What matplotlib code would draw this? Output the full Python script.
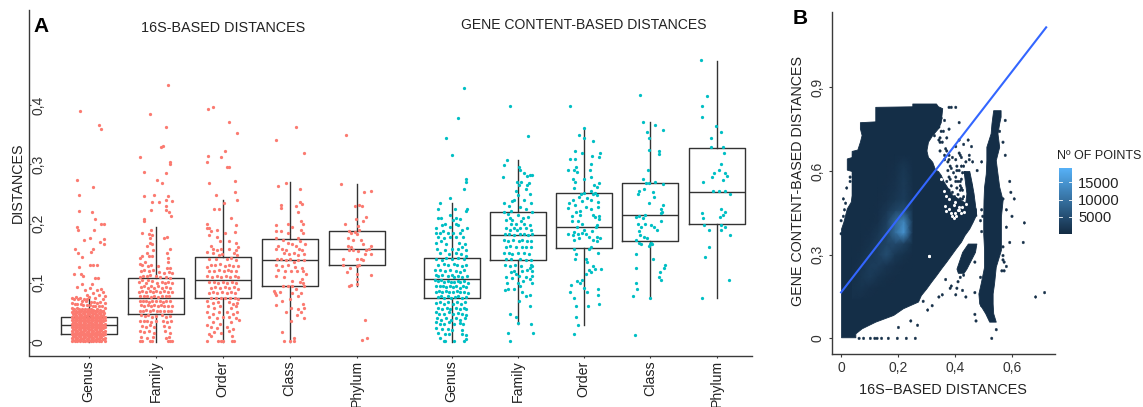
import numpy as np
import matplotlib
matplotlib.use("Agg")
import matplotlib.pyplot as plt
from matplotlib.colors import LinearSegmentedColormap, Normalize
from matplotlib.cm import ScalarMappable

plt.rcParams['font.family'] = ['Liberation Sans', 'DejaVu Sans']

W, H = 1143, 407
ranks = ["Genus", "Family", "Order", "Class", "Phylum"]
group_titles = ["16S-BASED DISTANCES", "GENE CONTENT-BASED DISTANCES"]
positions = [0, 1, 2, 3, 4, 5.418, 6.403, 7.39, 8.376, 9.373]

# whisker low, q1, median, q3, whisker high
box_16s = [(0, .014, .028, .043, .073), (0, .047, .075, .108, .194), (0, .074, .105, .143, .24),
           (0, .094, .138, .174, .27), (.094, .13, .157, .187, .267)]
box_gene = [(0, .075, .107, .142, .235), (.03, .139, .181, .219, .307), (.028, .159, .195, .252, .36),
            (.074, .17, .214, .268, .371), (.074, .2, .253, .328, .475)]

# jittered points: (horizontal jitter, distance)
pts_genus_16s = [(-.13,.39),(.16,.366),(.19,.36),(-.18,.273),(.06,.262),(-.15,.248),(-.15,.221),(.05,.219),(.1,.208),(-.18,.194),(-.16,.189),(.08,.189),(.18,.199),(.23,.199),
(-.07,.172),(.02,.176),(.23,.174),(.17,.169),(.23,.165),(.07,.157),(-.2,.158),(.04,.152),(-.1,.144),(-.16,.151),(.02,.13),(.06,.13),(.12,.13),(-.14,.127),(-.22,.115),(-.12,.115),(-.08,.112),(.1,.108),(.14,.108),(-.1,.098),(.05,.098),(.02,.092),(-.17,.093),(-.05,.088),(.19,.09),(.13,.088),(.22,.084),(.07,.082),(-.03,.08),(.15,.079),(.24,.078),(-.02,.073),(.21,.072),(.1,.074),(.01,.076),
(-.25,.074),(-.22,.073),(-.19,.076),(-.16,.072),(-.13,.075),(-.1,.07),(-.07,.073),(-.04,.069),(.04,.068),(.08,.067),(.12,.066),(.17,.068),(.24,.066),
(-.25,.066),(-.21,.064),(-.17,.065),(-.12,.064),(-.08,.063),(-.03,.062),(.02,.062),(.06,.06),(.1,.06),(.15,.061),(.2,.06),(.25,.058),
(-.25,.058),(-.22,.056),(-.18,.058),(-.15,.056),(-.1,.056),(-.06,.056),(-.01,.055),(.03,.055),(.07,.054),(.12,.055),(.17,.054),(.22,.053),
(-.25,.05),(-.21,.049),(-.17,.05),(-.13,.05),(-.09,.049),(-.05,.05),(-.01,.049),(.03,.05),(.07,.049),(.11,.05),(.15,.049),(.19,.05),(.23,.049),
(-.25,.043),(-.21,.044),(-.17,.043),(-.13,.044),(-.09,.043),(-.05,.044),(-.01,.043),(.03,.044),(.07,.043),(.11,.044),(.15,.043),(.19,.044),(.24,.043),
(-.25,.037),(-.21,.038),(-.17,.037),(-.13,.038),(-.09,.037),(-.05,.038),(-.01,.037),(.03,.038),(.07,.037),(.11,.038),(.15,.037),(.19,.038),(.24,.037),
(-.25,.031),(-.21,.032),(-.17,.031),(-.13,.032),(-.09,.031),(-.05,.032),(-.01,.031),(.03,.032),(.07,.031),(.11,.032),(.15,.031),(.19,.032),(.24,.031),
(-.25,.025),(-.21,.026),(-.17,.025),(-.13,.026),(-.09,.025),(-.05,.026),(-.01,.025),(.03,.026),(.07,.025),(.11,.026),(.15,.025),(.19,.026),(.24,.025),
(-.25,.019),(-.21,.02),(-.17,.019),(-.13,.02),(-.09,.019),(-.05,.02),(-.01,.019),(.03,.02),(.07,.019),(.11,.02),(.15,.019),(.19,.02),(.24,.019),
(-.25,.013),(-.21,.014),(-.17,.013),(-.13,.014),(-.09,.013),(-.05,.014),(-.01,.013),(.03,.014),(.07,.013),(.11,.014),(.15,.013),(.19,.014),(.24,.013),
(-.25,.007),(-.21,.008),(-.17,.007),(-.13,.008),(-.09,.007),(-.05,.008),(-.01,.007),(.03,.008),(.07,.007),(.11,.008),(.15,.007),(.19,.008),(.24,.007),
(-.25,.001),(-.21,.001),(-.17,.001),(-.13,.001),(-.09,.001),(-.05,.001),(-.01,.001),(.03,.001),(.07,.001),(.11,.001),(.15,.001),(.19,.001),(.24,.001),
(-.23,.052),(-.19,.053),(-.15,.053),(-.11,.052),(-.07,.053),(-.03,.052),(.01,.052),(.05,.052),(.09,.052),(.13,.052),(.17,.051),(.21,.052),
(-.23,.047),(-.19,.046),(-.15,.047),(-.11,.046),(-.07,.047),(-.03,.046),(.01,.047),(.05,.046),(.09,.047),(.13,.046),(.17,.047),(.21,.046),
(-.23,.04),(-.19,.041),(-.15,.04),(-.11,.041),(-.07,.04),(-.03,.041),(.01,.04),(.05,.041),(.09,.04),(.13,.041),(.17,.04),(.21,.041),
(-.23,.034),(-.19,.035),(-.15,.034),(-.11,.035),(-.07,.034),(-.03,.035),(.01,.034),(.05,.035),(.09,.034),(.13,.035),(.17,.034),(.21,.035),
(-.23,.028),(-.19,.029),(-.15,.028),(-.11,.029),(-.07,.028),(-.03,.029),(.01,.028),(.05,.029),(.09,.028),(.13,.029),(.17,.028),(.21,.029),
(-.23,.022),(-.19,.023),(-.15,.022),(-.11,.023),(-.07,.022),(-.03,.023),(.01,.022),(.05,.023),(.09,.022),(.13,.023),(.17,.022),(.21,.023),
(-.23,.016),(-.19,.017),(-.15,.016),(-.11,.017),(-.07,.016),(-.03,.017),(.01,.016),(.05,.017),(.09,.016),(.13,.017),(.17,.016),(.21,.017),
(-.23,.01),(-.19,.011),(-.15,.01),(-.11,.011),(-.07,.01),(-.03,.011),(.01,.01),(.05,.011),(.09,.01),(.13,.011),(.17,.01),(.21,.011),
(-.23,.004),(-.19,.005),(-.15,.004),(-.11,.005),(-.07,.004),(-.03,.005),(.01,.004),(.05,.005),(.09,.004),(.13,.005),(.17,.004),(.21,.005)]

pts_family_16s = [(.18,.435),(-.09,.385),(.15,.364),(.11,.331),(.08,.329),(-.24,.313),(.21,.304),(.22,.3),(-.17,.288),(.15,.286),(.02,.274),(.1,.268),(-.17,.247),(-.02,.248),(.18,.246),(.24,.239),(.16,.24),(-.05,.237),(.05,.236),(.15,.23),(.15,.223),(.2,.219),(.23,.213),(-.07,.223),(-.18,.208),(-.18,.204),
(-.2,.185),(-.07,.19),(-.1,.183),(-.08,.176),(-.05,.181),(.12,.176),(.17,.177),(-.09,.168),(-.06,.165),(-.13,.162),(.22,.158),(-.04,.155),(.17,.15),(-.13,.15),(-.24,.142),(-.2,.145),(-.1,.145),(-.05,.145),(.18,.142),(.19,.135),
(-.24,.132),(-.2,.13),(-.16,.135),(-.12,.128),(-.07,.13),(.03,.128),(.17,.125),(.21,.125),(-.22,.12),(-.17,.122),(-.1,.12),(-.04,.122),(.05,.118),(.12,.117),(.2,.118),(.24,.116),(-.24,.11),(-.19,.112),(-.13,.112),(-.08,.114),(0,.112),(.07,.11),(.16,.11),(.22,.108),
(-.25,.102),(-.2,.104),(-.15,.1),(-.11,.104),(-.05,.103),(.02,.1),(.09,.102),(.14,.1),(.19,.101),(.24,.1),(-.22,.093),(-.17,.095),(-.12,.092),(-.07,.094),(-.02,.092),(.04,.094),(.1,.092),(.16,.093),(.22,.092),
(-.25,.085),(-.2,.086),(-.14,.085),(-.09,.087),(-.04,.084),(.01,.086),(.06,.084),(.12,.086),(.18,.084),(.24,.085),(-.23,.078),(-.18,.077),(-.13,.078),(-.07,.076),(-.02,.078),(.04,.076),(.09,.078),(.15,.077),(.2,.077),
(-.24,.07),(-.19,.069),(-.15,.07),(-.1,.068),(-.05,.07),(0,.069),(.06,.07),(.11,.068),(.16,.07),(.22,.069),(-.22,.062),(-.17,.06),(-.12,.062),(-.07,.06),(-.02,.062),(.03,.06),(.08,.062),(.13,.06),(.19,.061),(.24,.06),
(-.24,.053),(-.19,.052),(-.14,.054),(-.09,.052),(-.04,.054),(.02,.052),(.07,.053),(.13,.052),(.18,.053),(.23,.052),(-.22,.045),(-.16,.044),(-.11,.045),(-.05,.043),(.01,.044),(.09,.045),(.15,.043),(.21,.044),
(-.24,.036),(-.18,.035),(-.13,.036),(-.07,.034),(0,.036),(.11,.035),(.17,.034),(.23,.036),(-.21,.027),(-.15,.026),(-.08,.028),(-.03,.026),(.13,.027),(.2,.026),(-.24,.018),(-.17,.017),(-.1,.018),(-.02,.016),(.14,.018),(.22,.016),(-.22,.008),(-.13,.007),(-.04,.008),(.15,.006),(.2,.008),(-.24,.001),(-.2,.001),(-.09,.001),(-.05,.001),(.18,.001),(.21,.001),(.24,.001)]

pts_order_16s = [(-.22,.394),(-.15,.397),(.09,.372),(.21,.353),(.04,.323),(-.22,.315),(-.24,.304),(-.02,.313),(.07,.295),(.1,.295),(.18,.272),(-.2,.268),(.18,.254),(-.1,.248),(.22,.24),(-.13,.224),(-.06,.224),(.02,.235),(.12,.21),(-.23,.2),(.2,.198),(-.2,.193),(-.24,.193),(-.17,.188),(-.08,.19),(.18,.186),(-.2,.18),(.03,.185),
(-.09,.178),(-.04,.17),(.1,.17),(.2,.168),(-.18,.163),(-.14,.158),(-.09,.155),(-.03,.158),(.1,.158),(.2,.155),(.23,.16),(-.23,.152),(-.15,.15),(-.06,.147),(-.01,.148),(.17,.15),(.22,.147),(-.21,.14),(-.1,.14),(.06,.14),(.13,.142),(.2,.138),
(-.18,.13),(-.23,.127),(-.11,.13),(-.04,.132),(.04,.128),(.09,.13),(.16,.128),(.23,.128),(-.2,.12),(-.13,.12),(-.06,.122),(.02,.12),(.08,.122),(.13,.12),(.2,.12),(-.23,.112),(-.16,.11),(-.09,.112),(-.03,.11),(.05,.112),(.11,.11),(.18,.112),(.23,.11),
(-.2,.102),(-.13,.102),(-.07,.1),(0,.102),(.07,.1),(.14,.102),(.2,.1),(-.18,.092),(-.11,.093),(-.04,.092),(.03,.093),(.1,.092),(.17,.093),(.23,.09),(-.21,.083),(-.14,.084),(-.08,.083),(-.01,.084),(.06,.083),(.13,.084),(.19,.082),
(-.17,.075),(-.1,.075),(-.03,.074),(.04,.075),(.11,.074),(.18,.075),(.23,.073),(-.24,.07),(-.15,.066),(-.07,.067),(.09,.067),(.15,.065),(.21,.066),(-.22,.06),(-.13,.058),(-.04,.06),(.12,.058),(.2,.06),(-.24,.05),(-.15,.048),(-.06,.05),(.06,.05),(.16,.048),(.22,.05),
(-.2,.042),(-.08,.04),(0,.042),(.1,.042),(.2,.04),(.24,.038),(-.15,.033),(-.04,.03),(.12,.033),(-.23,.028),(-.18,.025),(-.09,.024),(.06,.025),(.16,.022),(-.13,.017),(-.03,.016),(.09,.018),(-.2,.013),(-.17,.01),(.14,.01),(-.24,.001),(-.07,.001),(-.03,.001),(.01,.001),(.14,.002),(.17,.001)]

pts_class_16s = [(-.21,.341),(.09,.364),(.21,.32),(-.06,.268),(-.18,.263),(.15,.258),(.15,.237),(.18,.234),(-.13,.232),(-.13,.227),(.09,.229),(.13,.22),(.17,.205),(.2,.2),(-.21,.197),(-.03,.2),(.04,.194),(-.2,.187),(-.13,.187),(-.03,.185),(.17,.19),(.2,.185),(.12,.175),
(-.21,.176),(-.1,.172),(-.17,.163),(-.02,.168),(.04,.165),(.1,.163),(.16,.17),(.23,.165),(-.2,.158),(-.12,.158),(-.05,.155),(.14,.157),(.19,.155),(-.09,.15),(-.01,.148),(.07,.15),(.13,.147),(.22,.148),
(-.19,.14),(-.13,.14),(-.06,.138),(.01,.14),(.06,.135),(.13,.138),(.21,.138),(-.2,.13),(-.11,.128),(-.03,.13),(.08,.127),(.18,.125),(-.17,.122),(-.07,.12),(.02,.12),(.11,.12),(.2,.12),(.24,.115),(.18,.107),(.15,.102),(-.2,.112),(-.09,.11),(.04,.103),(.2,.1),(.22,.095),
(-.1,.095),(-.03,.094),(.03,.094),(.09,.09),(-.23,.086),(-.22,.083),(-.14,.085),(.04,.083),(.17,.082),(-.2,.08),(.12,.078),(-.11,.07),(.01,.072),(.2,.065),(.22,.058),(-.2,.062),(.02,.058),(.13,.055),(.17,.05),(-.06,.05),(.11,.045),(.21,.04),(.02,.036),(-.11,.017),(-.08,.002),(.06,.006),(.0,.001),(.07,.001)]

pts_phylum_16s = [(-.16,.35),(-.24,.267),(.22,.255),(.11,.254),(.04,.231),(.08,.23),(-.03,.23),(.14,.212),(-.01,.208),(-.02,.186),(.03,.19),(.1,.205),(-.17,.2),(.02,.196),(-.11,.188),(-.08,.185),(.01,.183),
(-.13,.175),(-.06,.172),(.1,.165),(.07,.172),(.21,.162),(-.13,.163),(-.09,.16),(-.12,.155),(-.06,.155),(.02,.153),(.14,.155),(.19,.158),(.21,.148),(.12,.148),(.01,.14),(.06,.14),(-.21,.13),(-.2,.14),(.1,.138),(.01,.128),(.03,.13),(-.1,.125),(-.14,.118),(.01,.115),(.21,.113),(.0,.107),(-.08,.096),(-.12,.095),(.0,.098),(.12,.037),(.15,.007),(.08,.004)]

pts_genus_gene = [(.18,.429),(.09,.378),(-.08,.345),(0,.316),(.21,.275),(.21,.27),(.19,.258),(-.02,.243),(-.18,.235),(-.2,.225),(.05,.225),(.23,.225),(.22,.222),
(-.2,.21),(-.16,.21),(-.02,.215),(.02,.207),(.07,.21),(.13,.208),(-.24,.192),(-.14,.198),(-.1,.2),(-.03,.195),(.06,.2),(.1,.198),(.23,.192),(.16,.19),(-.24,.185),(-.18,.185),(-.13,.188),(-.05,.185),(.02,.185),(.12,.185),(-.21,.177),(-.12,.175),(-.03,.177),(.07,.178),(.17,.178),(-.23,.168),(-.16,.17),(-.08,.165),(.11,.168),(.2,.165),(-.22,.158),(-.1,.155),(0,.158),(.09,.158),(.16,.16),(.21,.155),
(-.18,.15),(-.04,.148),(.06,.15),(.14,.148),(.22,.145),(-.24,.14),(-.15,.138),(-.08,.142),(.01,.14),(.1,.142),(.19,.14),(-.2,.13),(-.12,.132),(-.05,.13),(.03,.132),(.08,.13),(.15,.128),(.22,.13),(-.25,.122),(-.18,.122),(-.1,.12),(-.02,.122),(.06,.12),(.12,.118),(.18,.122),(-.24,.113),(-.2,.112),(-.14,.113),(-.06,.112),(0,.113),(.04,.11),(.1,.112),(.16,.11),(.23,.112),
(-.25,.105),(-.21,.103),(-.16,.104),(-.11,.102),(-.06,.103),(-.01,.102),(.04,.102),(.09,.103),(.13,.101),(.19,.103),(.24,.1),(-.23,.095),(-.18,.094),(-.13,.095),(-.08,.093),(-.03,.095),(.02,.093),(.07,.095),(.12,.092),(.17,.094),(.22,.093),(-.24,.085),(-.19,.086),(-.14,.084),(-.09,.086),(-.04,.084),(.02,.085),(.08,.086),(.13,.084),(.19,.085),(.24,.083),
(-.21,.076),(-.16,.077),(-.11,.075),(-.06,.077),(-.01,.075),(.05,.076),(.1,.077),(.16,.075),(.21,.076),(-.23,.066),(-.18,.067),(-.12,.065),(-.06,.067),(.02,.065),(.08,.067),(.14,.065),(.2,.067),(-.2,.057),(-.14,.056),(-.07,.058),(-.02,.056),(.06,.057),(.13,.056),(.18,.058),(.22,.055),(-.24,.05),(-.19,.048),(-.11,.048),(-.04,.05),(.02,.047),(.1,.049),(.16,.048),(.22,.046),
(-.22,.04),(-.16,.038),(-.08,.04),(-.01,.038),(.07,.04),(.13,.038),(.2,.04),(-.24,.034),(-.18,.03),(-.11,.031),(-.04,.033),(.03,.03),(.12,.032),(.17,.03),(-.23,.024),(-.15,.022),(-.06,.022),(.0,.02),(.15,.02),(-.2,.015),(-.1,.014),(-.04,.013),(.16,.013),(.22,.012),(-.17,.007),(.21,.005),(-.12,.001),(-.1,.001),(.04,.001),(.18,.001)]

pts_family_gene = [(-.11,.399),(.15,.348),(-.16,.308),(-.2,.299),(.02,.296),(.04,.29),(.1,.285),(-.22,.278),(.22,.282),(.14,.28),(.18,.283),(.05,.27),(.14,.265),(-.01,.27),(.02,.265),(.17,.268),(.13,.258),(-.02,.255),(.18,.25),(.09,.24),(.2,.235),(.0,.248),
(-.08,.238),(-.2,.235),(-.13,.23),(-.05,.24),(.03,.228),(-.1,.222),(.22,.22),(-.2,.22),(.13,.225),(-.15,.216),(-.12,.21),(-.08,.206),(.0,.215),(.08,.21),(.15,.212),(-.18,.207),(-.1,.2),(-.02,.2),(.05,.204),(.1,.2),(.18,.198),(.03,.192),(-.17,.192),(-.11,.19),(-.06,.192),(-.01,.19),(.12,.193),(.2,.19),(-.19,.183),(-.13,.183),(-.05,.18),(.03,.182),(.09,.183),(.16,.18),(.21,.182),
(-.2,.172),(-.14,.17),(-.07,.172),(.02,.17),(.07,.172),(.14,.17),(.2,.17),(-.18,.16),(-.11,.162),(-.03,.16),(.06,.16),(.12,.16),(.2,.16),(-.2,.15),(-.13,.15),(-.08,.148),(0,.15),(.09,.15),(.17,.148),(-.18,.14),(-.1,.14),(.03,.14),(.12,.138),(.2,.138),
(-.19,.13),(-.12,.128),(-.04,.13),(.05,.128),(.2,.13),(.22,.128),(-.05,.12),(.06,.12),(.14,.122),(.19,.125),(.22,.12),(-.1,.118),(-.03,.115),(.02,.112),(.13,.11),(.21,.112),(-.18,.11),(-.16,.1),(-.08,.108),(.08,.103),(.22,.1),(.19,.106),(-.19,.088),(-.14,.09),(-.05,.09),(.0,.1),(.03,.095),(.07,.085),(.13,.078),(.19,.06),(.02,.07),(.19,.08),(-.11,.047),(-.03,.043),(0,.032),(.2,.03),(-.15,.015),(.23,.015),(-.11,.001)]

pts_order_gene = [(-.21,.399),(.0,.362),(-.07,.35),(.0,.345),(.14,.34),(-.13,.322),(.12,.315),(.24,.32),(-.2,.31),(-.13,.31),(.23,.312),(-.02,.32),(-.12,.295),(.1,.3),(-.1,.288),(-.24,.29),(.09,.29),(-.16,.275),(-.14,.29),(.1,.278),(.0,.275),(-.13,.27),(.22,.268),(.15,.265),(.19,.262),(-.14,.26),(.11,.255),(.16,.252),
(-.04,.25),(.01,.252),(.13,.25),(.2,.248),(-.22,.235),(-.16,.24),(-.07,.245),(-.03,.238),(.05,.243),(.11,.24),(.21,.236),(-.24,.226),(-.13,.232),(-.06,.222),(.03,.228),(.1,.225),(.21,.228),(-.18,.213),(-.12,.22),(-.05,.215),(.13,.215),(.23,.213),(-.17,.205),(-.08,.205),(-.03,.2),(.17,.212),(.22,.208),(-.1,.195),(0,.19),(-.02,.185),(.12,.188),(.2,.198),(-.15,.186),(.18,.195),
(-.24,.182),(-.16,.18),(-.09,.182),(.03,.182),(.08,.178),(.2,.178),(.24,.175),(-.15,.172),(-.07,.175),(.14,.172),(.2,.17),(-.14,.158),(.08,.158),(.11,.16),(-.12,.148),(.21,.15),(.03,.14),(-.13,.14),(.05,.135),(.13,.128),(.25,.124),(.17,.124),(.08,.122),(.1,.118),(.03,.115),(-.1,.103),(-.06,.1),(-.03,.104),(.0,.092),(-.19,.096),(-.2,.085),(.21,.09),(.05,.085),(.21,.08),(-.14,.075),(.22,.065),(-.12,.06),(.06,.06),(-.12,.043),(-.08,.028),(-.14,.014)]

pts_class_gene = [(-.15,.418),(-.1,.371),(.07,.367),(.19,.358),(-.04,.355),(-.01,.345),(-.01,.325),(.13,.322),(.14,.318),(-.03,.29),(-.1,.275),(.07,.27),(.2,.267),(-.06,.268),(-.01,.268),(-.09,.258),(.05,.253),(-.18,.25),(-.17,.255),(.06,.245),(.2,.232),(.17,.225),(.18,.22),(-.02,.235),(-.07,.215),(.17,.218),(-.2,.212),(-.17,.213),(-.1,.21),(.17,.205),
(-.18,.2),(-.13,.195),(-.07,.2),(.02,.197),(.06,.195),(.1,.19),(-.16,.187),(-.15,.18),(-.09,.177),(-.05,.175),(.0,.165),(-.01,.163),(.03,.165),(-.21,.172),(-.16,.168),(-.13,.165),(.02,.168),(-.2,.148),(.04,.14),(.22,.13),(.21,.125),(.15,.118),(.14,.11),(.16,.105),(-.2,.125),(-.25,.078),(-.19,.09),(-.2,.1),(-.22,.012),(.0,.074)]

pts_phylum_gene = [(-.23,.476),(-.15,.416),(-.22,.398),(-.22,.38),(-.01,.365),(.07,.355),(-.09,.345),(.11,.32),(.09,.33),(-.08,.33),(-.07,.278),(.16,.28),(.06,.3),(.12,.285),(.03,.29),(-.04,.285),(.1,.273),(-.2,.27),(.04,.255),(-.06,.255),(.13,.255),(.2,.25),(.12,.22),(.06,.225),(.1,.215),(-.22,.218),(-.2,.21),(.05,.212),(.12,.195),(-.19,.197),(-.12,.19),(.07,.197),(.07,.19),(.2,.18),(-.12,.16),(-.18,.143),(.19,.105),(-.22,.075)]

pts_all = [pts_genus_16s, pts_family_16s, pts_order_16s, pts_class_16s, pts_phylum_16s,
           pts_genus_gene, pts_family_gene, pts_order_gene, pts_class_gene, pts_phylum_gene]
boxes = box_16s + box_gene

# Panel B: outline of the hexbin cloud, rows of (content distance, left 16S, right 16S)
cloud_main = [(.004,0,.05),(.018,0,.05),(.036,0,.072),(.06,0,.12),(.084,0,.183),(.108,0,.217),(.132,0,.27),(.155,0,.28),(.179,0,.299),(.203,0,.316),(.227,0,.334),(.251,0,.351),(.275,0,.369),(.299,0,.386),(.323,0,.403),(.347,0,.421),(.37,0,.433),(.394,0,.45),(.418,.008,.462),(.442,.014,.473),(.466,.02,.473),(.49,.034,.43),(.514,.037,.39),(.538,.037,.375),(.562,.037,.36),(.586,.037,.35),(.6,.037,.34),(.605,.02,.33),(.633,.02,.32),(.645,.02,.31),(.65,.037,.305),(.672,.037,.3),(.677,.057,.3),(.705,.066,.305),(.729,.072,.32),(.753,.066,.34),(.775,.066,.35),(.778,.12,.35),(.825,.12,.355),(.83,.12,.345),(.832,.25,.34),(.842,.25,.333)]
cloud_wing = [(.44,.425,.475),(.48,.435,.47),(.52,.44,.465),(.56,.435,.458),(.6,.43,.45)]
cloud_sub = [(.235,.41,.43),(.25,.405,.44),(.28,.415,.455),(.31,.425,.47),(.34,.445,.475)]
cloud_stripe = [(.06,.52,.543),(.09,.506,.534),(.125,.485,.532),(.161,.482,.532),(.197,.49,.537),(.257,.502,.543),(.317,.502,.561),(.376,.499,.561),(.436,.499,.561),(.496,.5,.567),(.544,.502,.555),(.591,.508,.549),(.639,.51,.543),(.687,.51,.555),(.735,.525,.549),(.771,.528,.555),(.795,.531,.56),(.818,.534,.56)]
stray_cells = [(.165,0),(.2,0),(.229,0),(.264,0),(.13,0),(.27,.044),(.241,.06),(.203,.036),(.188,.155),(.287,.131),(.353,.155),(.386,.177),(.442,.147),(.467,.167),(.473,.084),(.473,.06),(.526,0),(.541,.03),(.491,.631),(.593,.565),(.593,.523),(.605,.499),(.578,.462),(.601,.434),(.642,.418),(.593,.344),(.642,.344),(.578,.4),(.683,.147),(.712,.161),(.572,.245),(.29,.478),(.293,.496),(.363,.424),(.287,.514),(.415,.771),(.448,.713),(.456,.687),
(.38,.83),(.39,.83),(.4,.83),(.34,.76),(.35,.8),(.36,.78),(.355,.74),(.37,.72),(.345,.7),(.365,.66),(.375,.64),(.38,.62),(.39,.61),(.4,.64),(.41,.6),(.375,.58),(.385,.57),(.395,.59),(.405,.62),(.415,.66),(.42,.54),(.365,.55),(.375,.53),(.39,.52),(.41,.56),(.425,.59),(.43,.5),(.38,.51),(.4,.5),(.42,.53),
(.06,0),(.08,0),(.1,0),(.12,.002),(.14,0),(.3,.1),(.32,.12),(.34,.15),(.37,.21),(.41,.2),(.43,.23),(.4,.155),(.39,.19),(.41,.18),(.43,.17),(.42,.22),(.57,.33),(.57,.3),(.565,.28),(.58,.26),(.49,.22),(.495,.12),(.57,.5),
(.395,.59),(.405,.58),(.415,.6),(.425,.57),(.435,.59),(.39,.55),(.4,.56),(.41,.54),(.42,.55),(.43,.53),(.38,.52),(.395,.51),(.41,.52),(.42,.5),(.385,.49),(.4,.5),(.415,.49),(.43,.51),(.37,.56),(.385,.57),(.4,.58),(.415,.56),(.375,.6),(.39,.61),(.405,.6),(.42,.62),(.36,.64),(.375,.63),(.39,.65),(.405,.64),(.42,.66),(.435,.63),(.35,.67),(.365,.68),(.38,.66),(.4,.69),(.415,.71),(.43,.7),(.345,.72),(.36,.74),(.38,.75),(.33,.73),(.345,.77),(.36,.78),(.335,.8),(.35,.79),(.325,.81),(.34,.81),(.34,.71),(.355,.7),(.37,.67),(.42,.65),(.44,.63),(.45,.66),(.465,.63),(.43,.62),(.46,.3),(.47,.27),(.45,.64),(.42,.62),(.405,.6),(.46,.55),(.475,.6),(.57,.27),(.565,.24),(.575,.66),(.57,.7),(.56,.74),(.575,.78),(.495,.38),(.49,.42),(.5,.44),(.495,.46),(0,.38),(0,.42),(.004,.44),(.01,.46),(.015,.48),(.005,.5),(.02,.54),(.03,.56),(.035,.58),(.06,.62),(.065,.66),(.09,.7),(.1,.72)]
hole_16s = [.307,.31,.365,.38,.395,.41,.425,.44,.37,.385,.4,.415,.43,.39,.405,.42,.38,.4,.415,.37,.36,.35,.395]
hole_gene = [.295,.295,.475,.465,.478,.462,.47,.48,.455,.45,.448,.46,.452,.44,.44,.45,.5,.49,.47,.51,.53,.57,.43]

# Panel B density over the ridge, counts per cell
glow_16s = [.04,.07,.10,.13,.16,.19,.22,.25]
glow_gene = [.14,.18,.22,.26,.30,.34,.38,.42,.46,.50,.54,.58,.62,.66]
glow_counts = [[800,600,400,400,400,400,400,400],
 [1000,1300,800,500,400,400,400,400],
 [700,1500,2300,1200,700,500,400,400],
 [500,1100,2400,2500,1400,800,500,400],
 [400,700,1500,2800,4800,1800,1000,500],
 [400,500,1000,2300,3800,4200,3000,700],
 [400,400,600,1500,3500,9500,15000,1400],
 [400,400,400,800,2800,8500,13000,1700],
 [400,400,400,600,1600,3500,4500,1200],
 [400,400,400,500,800,1500,2400,900],
 [400,400,400,400,600,1100,2200,800],
 [400,400,400,400,500,900,2000,700],
 [400,400,400,400,500,700,1500,600],
 [400,400,400,400,400,400,400,400]]
fit_16s = [0, .72]
fit_gene = [.165, 1.115]
count_ticks = [5000, 10000, 15000]
count_max = 19200

def axes_px(l, t, r, b):
    return [l / W, 1 - b / H, (r - l) / W, (b - t) / H]

fig = plt.figure(figsize=(W / 100, H / 100), dpi=100)
DARK = '#3A3A3A'
RED, TEAL = '#FB7A70', '#00BFC4'

# Panel A
ax = fig.add_axes(axes_px(29, 10, 752, 355.5))
stats = [dict(whislo=b[0], q1=b[1], med=b[2], q3=b[3], whishi=b[4], fliers=[]) for b in boxes]
line = dict(color='#333333', lw=1.0)
ax.bxp(stats, positions=positions, widths=.835, showcaps=False, showfliers=False, manage_ticks=False,
       boxprops=line, whiskerprops=line, medianprops=line, zorder=2)
for i, (p, pts) in enumerate(zip(positions, pts_all)):
    a = np.array(pts)
    ax.scatter(p + a[:, 0], a[:, 1], s=5.5, lw=0, color=RED if i < 5 else TEAL, zorder=3)
ax.set_xlim(-.891, 9.9)
ax.set_ylim(-.0228, .561)
ax.set_xticks(positions)
ax.set_xticklabels(ranks + ranks, rotation=90, fontsize=10.2, color='#222222')
ax.set_yticks([0, .1, .2, .3, .4])
ax.set_yticklabels(['0', '0,1', '0,2', '0,3', '0,4'], rotation=90, va='center', fontsize=10, color='#333333')
ax.tick_params(axis='x', length=1.5, width=.8, color=DARK, pad=2)
ax.tick_params(axis='y', direction='in', length=1.5, width=.8, color=DARK, pad=-12)
for s in ('top', 'right'):
    ax.spines[s].set_visible(False)
for s in ('left', 'bottom'):
    ax.spines[s].set_color(DARK)
    ax.spines[s].set_linewidth(1.0)

def ftext(x, y, s, **kw):
    kw.setdefault('ha', 'center')
    kw.setdefault('va', 'center')
    fig.text(x / W, 1 - y / H, s, **kw)

ftext(222.7, 28, group_titles[0], fontsize=10.4, color='#222222')
ftext(584, 25, group_titles[1], fontsize=10.1, color='#222222')
ftext(18, 183, 'DISTANCES', rotation=90, fontsize=10.3, color='#222222')
ftext(41, 27, 'A', fontsize=15, fontweight='bold', color='black')
ftext(800, 18, 'B', fontsize=15, fontweight='bold', color='black')

# Panel B
bx = fig.add_axes(axes_px(831.7, 12, 1055, 354))
cmap = LinearSegmentedColormap.from_list('gg', ['#132B43', '#56B1F7'])
norm = Normalize(0, count_max)
base = cmap(norm(400))
for rows in (cloud_main, cloud_wing, cloud_sub, cloud_stripe):
    r = np.array(rows)
    bx.fill_betweenx(r[:, 0], r[:, 1], r[:, 2], color=base, lw=.6, zorder=1)
cells = np.array(stray_cells)
hb = bx.hexbin(cells[:, 0], cells[:, 1], gridsize=(95, 64), extent=(0, .75, 0, 1), cmap=cmap, norm=norm, mincnt=1,
               linewidths=.3, edgecolors='face', zorder=1.5)
hb.set_array(np.full(len(hb.get_array()), 400.0))
bx.scatter(hole_16s, hole_gene, marker='h', s=6, lw=0, color='white', zorder=1.7)
bx.pcolormesh(glow_16s, glow_gene, np.array(glow_counts), shading='gouraud', cmap=cmap, norm=norm, zorder=2)
bx.plot(fit_16s, fit_gene, color='#3366FF', lw=1.5, zorder=3)
bx.set_xlim(-.033, .751)
bx.set_ylim(-.056, 1.17)
bx.set_xticks([0, .2, .4, .6])
bx.set_xticklabels(['0', '0,2', '0,4', '0,6'], fontsize=10, color='#333333')
bx.set_yticks([0, .3, .6, .9])
bx.set_yticklabels(['0', '0,3', '0,6', '0,9'], rotation=90, va='center', fontsize=10, color='#333333')
bx.tick_params(axis='both', length=2, width=.8, color=DARK, pad=3)
for s in ('top', 'right'):
    bx.spines[s].set_visible(False)
for s in ('left', 'bottom'):
    bx.spines[s].set_color(DARK)
    bx.spines[s].set_linewidth(1.0)
ftext(943, 390, '16S\u2212BASED DISTANCES', fontsize=10.4, color='#222222')
ftext(798, 180.5, 'GENE CONTENT-BASED DISTANCES', rotation=90, fontsize=10.3, color='#222222')

# Colour bar
cax = fig.add_axes(axes_px(1059, 168, 1072, 234))
cb = fig.colorbar(ScalarMappable(norm=norm, cmap=cmap), cax=cax)
cb.outline.set_visible(False)
cb.set_ticks(count_ticks)
cb.ax.tick_params(length=0, pad=4.5, labelsize=10.6, labelcolor='#222222')
for t in count_ticks:
    cax.plot([0, .2], [t, t], color='white', lw=.6, transform=cax.get_yaxis_transform())
    cax.plot([.8, 1], [t, t], color='white', lw=.6, transform=cax.get_yaxis_transform())
ftext(1057, 156, 'Nº OF POINTS', ha='left', fontsize=9, color='#222222')

fig.savefig('out.png', dpi=100)
